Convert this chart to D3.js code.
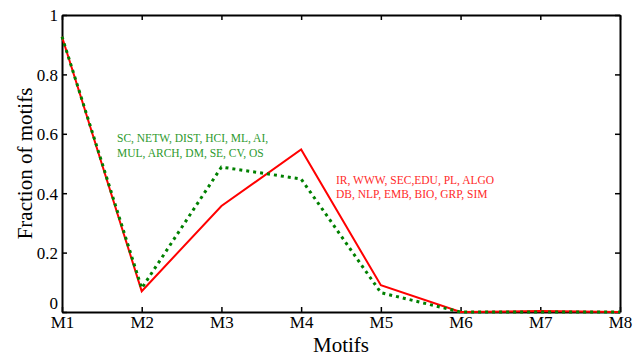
<!DOCTYPE html>
<html>
<head>
<meta charset="utf-8">
<script src="https://cdn.jsdelivr.net/npm/d3@7"></script>
<style>
  body { margin: 0; background: #fff; }
  svg text { font-family: 'Liberation Serif', 'DejaVu Serif', 'Times New Roman', Times, serif; }
</style>
</head>
<body>
<div id="chart"></div>
<script>
// data
const motifs = ['M1', 'M2', 'M3', 'M4', 'M5', 'M6', 'M7', 'M8']
const redValues = [0.927, 0.07, 0.357, 0.547, 0.09, 0.0, 0.003, 0.0]
const greenValues = [0.927, 0.08, 0.488, 0.448, 0.065, 0.0, 0.0, 0.0]
const yTicks = [0, 0.2, 0.4, 0.6, 0.8, 1]
const greenLabel = ['SC, NETW, DIST, HCI, ML, AI,', 'MUL, ARCH, DM, SE, CV, OS']
const redLabel = ['IR, WWW, SEC,EDU, PL, ALGO', 'DB, NLP, EMB, BIO, GRP, SIM']

const width = 642
const height = 358
const margin = { top: 15, right: 22, bottom: 46, left: 62 }
const serif = "'Liberation Serif', 'DejaVu Serif', 'Times New Roman', Times, serif"

const svg = d3
  .select('#chart')
  .append('svg')
  .attr('width', width)
  .attr('height', height)

const x = d3
  .scalePoint()
  .domain(motifs)
  .range([margin.left, width - margin.right])

const y = d3
  .scaleLinear()
  .domain([0, 1])
  .range([height - margin.bottom, margin.top])

const fmt = d => (d === 0 || d === 1 ? d3.format('d')(d) : d3.format('.1f')(d))

// axes (box with inward ticks)
const xAxis = svg
  .append('g')
  .attr('transform', `translate(0,${y(0)})`)
  .call(d3.axisBottom(x).tickSizeInner(-5).tickSizeOuter(0).tickPadding(4))
const xTop = svg
  .append('g')
  .attr('transform', `translate(0,${y(1)})`)
  .call(d3.axisTop(x).tickSizeInner(-5).tickSizeOuter(0).tickFormat(''))
const yAxis = svg
  .append('g')
  .attr('transform', `translate(${x('M1')},0)`)
  .call(d3.axisLeft(y).tickValues(yTicks).tickFormat(fmt).tickSizeInner(-5).tickSizeOuter(0).tickPadding(4))
const yRight = svg
  .append('g')
  .attr('transform', `translate(${x('M8')},0)`)
  .call(d3.axisRight(y).tickValues(yTicks).tickSizeInner(-5).tickSizeOuter(0).tickFormat(''))

;[xAxis, xTop, yAxis, yRight].forEach(g => {
  g.attr('font-family', serif)
  g.selectAll('path.domain').attr('stroke', '#000').attr('stroke-width', 2)
  g.selectAll('.tick line').attr('stroke', '#000').attr('stroke-width', 1.5)
  g.selectAll('.tick text')
    .attr('fill', '#000')
    .style('font-size', '17px')
})
// lift the "0" label a bit so it clears "M1"
yAxis.selectAll('.tick text').attr('dy', d => (d === 0 ? '-0.2em' : '0.35em'))

// lines
const line = d3
  .line()
  .x((d, i) => x(motifs[i]))
  .y(d => y(d))

svg
  .append('path')
  .datum(redValues)
  .attr('fill', 'none')
  .attr('stroke', '#ff0000')
  .attr('stroke-width', 2)
  .attr('d', line)

svg
  .append('path')
  .datum(greenValues)
  .attr('fill', 'none')
  .attr('stroke', '#008000')
  .attr('stroke-width', 3)
  .attr('stroke-dasharray', '3,4')
  .attr('d', line)

// annotations
const greenText = svg
  .append('text')
  .attr('x', 117)
  .attr('y', 142)
  .attr('fill', '#2e9a2e')
  .style('font-size', '11.5px')
greenText
  .selectAll('tspan')
  .data(greenLabel)
  .join('tspan')
  .attr('x', 117)
  .attr('dy', (d, i) => (i === 0 ? 0 : 15))
  .text(d => d)

const redText = svg
  .append('text')
  .attr('x', 336)
  .attr('y', 184)
  .attr('fill', '#ff2a2a')
  .style('font-size', '11.5px')
redText
  .selectAll('tspan')
  .data(redLabel)
  .join('tspan')
  .attr('x', 336)
  .attr('dy', (d, i) => (i === 0 ? 0 : 14))
  .text(d => d)

// axis titles
svg
  .append('text')
  .attr('x', (x('M1') + x('M8')) / 2)
  .attr('y', 352)
  .attr('text-anchor', 'middle')
  .style('font-size', '21px')
  .text('Motifs')

svg
  .append('text')
  .attr('transform', `translate(32,${(y(0) + y(1)) / 2}) rotate(-90)`)
  .attr('text-anchor', 'middle')
  .style('font-size', '21px')
  .text('Fraction of motifs')
</script>
</body>
</html>
